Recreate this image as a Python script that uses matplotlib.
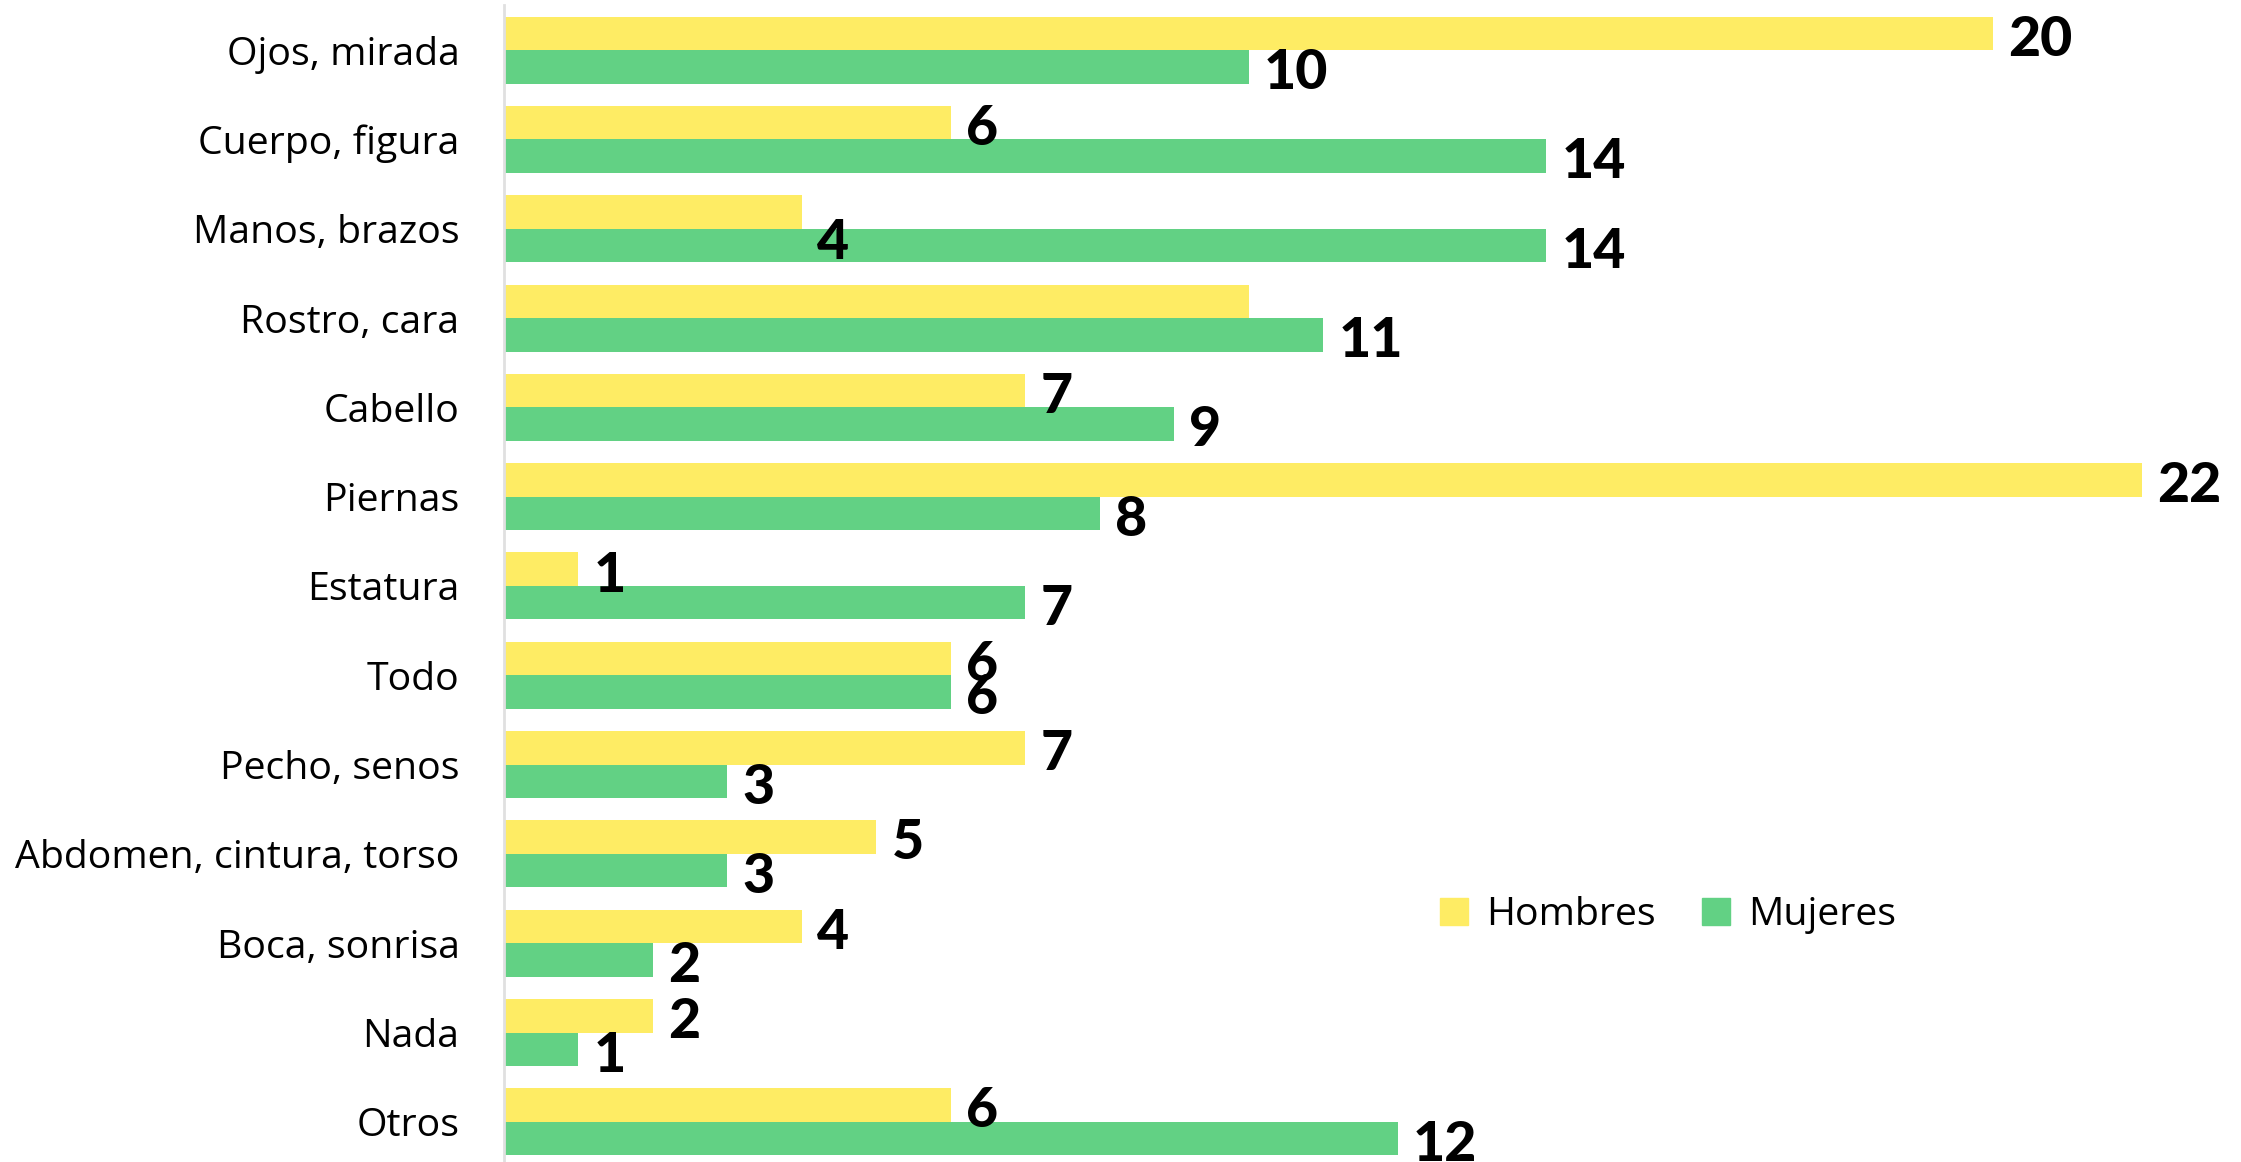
import matplotlib
matplotlib.use("Agg")
import matplotlib.pyplot as plt
import numpy as np
from matplotlib.patches import Patch

categories = ["Ojos, mirada", "Cuerpo, figura", "Manos, brazos", "Rostro, cara", "Cabello",
              "Piernas", "Estatura", "Todo", "Pecho, senos", "Abdomen, cintura, torso",
              "Boca, sonrisa", "Nada", "Otros"]
hombres = [20, 6, 4, 10, 7, 22, 1, 6, 7, 5, 4, 2, 6]
mujeres = [10, 14, 14, 11, 9, 8, 7, 6, 3, 3, 2, 1, 12]
series_names = ["Hombres", "Mujeres"]
colors = ["#FEEC64", "#62D184"]

# labels the original hides / nudges (layout only)
hidden_h = {3}
nudge_h = {2: 0.28}

fig = plt.figure(figsize=(22.41, 11.62), dpi=100)
ax = fig.add_axes([0.2249, -0.004, 0.731, 0.9994])

y = np.arange(len(categories))
h = 0.375
ax.barh(y - h / 2, hombres, height=h, color=colors[0], linewidth=0)
ax.barh(y + h / 2, mujeres, height=h, color=colors[1], linewidth=0)

ax.set_xlim(0, 22)
ax.set_ylim(len(categories) - 0.5, -0.5)
ax.set_yticks(y)
ax.set_yticklabels(categories, fontsize=28.3, family="Open Sans")
ax.tick_params(axis="y", length=0, pad=32)
for lab in ax.get_yticklabels():
    lab.set_y(lab.get_position()[1])
ax.set_xticks([])
for s in ["top", "right", "bottom"]:
    ax.spines[s].set_visible(False)
ax.spines["left"].set_color("#e0e0e0")
ax.spines["left"].set_linewidth(2)

vfont = dict(fontsize=40, family="Lato", fontweight="black", color="black",
             va="center", ha="left", clip_on=False)
dy = 0.07
for i, v in enumerate(hombres):
    if i in hidden_h:
        continue
    ax.annotate(str(v), (v, i - h / 2 + dy + nudge_h.get(i, 0)), xytext=(11, 0),
                textcoords="offset points", **vfont)
for i, v in enumerate(mujeres):
    ax.annotate(str(v), (v, i + h / 2 + dy), xytext=(11, 0),
                textcoords="offset points", **vfont)

handles = [Patch(color=c, label=n) for c, n in zip(colors, series_names)]
fig.legend(handles=handles, loc="center left", bbox_to_anchor=(0.627, 0.2125), ncol=2,
           frameon=False, prop={"family": "Open Sans", "size": 28.3},
           handlelength=0.7, handleheight=0.7, handletextpad=0.45, columnspacing=1.2)

fig.savefig("out.png", dpi=100, facecolor="white")
